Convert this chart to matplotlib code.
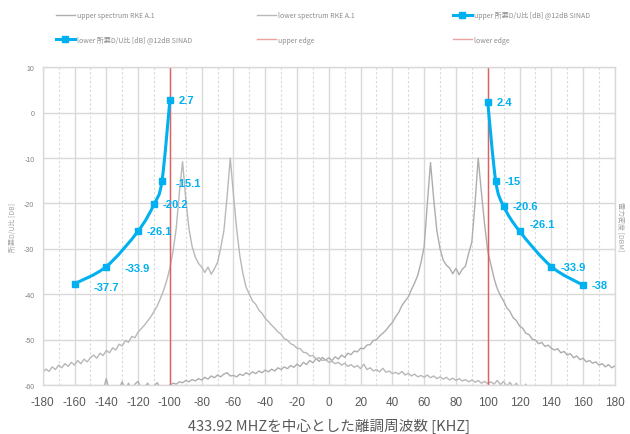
import numpy as np
import matplotlib
matplotlib.use("Agg")
import matplotlib.pyplot as plt
from matplotlib.path import Path
from matplotlib.patches import PathPatch
from matplotlib.lines import Line2D

plt.rcParams['font.family'] = ['Liberation Sans', 'Noto Sans CJK JP', 'DejaVu Sans']
plt.rcParams['axes.unicode_minus'] = False

# ---------------- data ----------------
freq = np.arange(-180, 182, 2)  # kHz sampling of the spectra

lower_spectrum = (
    [-57.2, -56.5, -57.0, -56.0, -56.6, -55.6, -56.2, -55.3, -55.9, -55.0, -55.6, -54.6, -55.3, -54.3, -54.9, -54.0]
    + [-53.4, -54.1, -53.0, -53.5, -52.4, -52.9, -51.8, -52.3, -51.0, -51.4, -50.2, -50.6, -49.3, -49.6, -48.3]
    + [-47.6, -46.8, -45.9, -45.0, -43.8, -42.6, -41.0, -39.2, -37.0, -34.3]
    + [-30.5, -25.5, -17.5, -10.8, -19.0, -25.5, -29.5]
    + [-31.8, -33.2, -34.0, -35.2, -34.0, -35.6, -34.4, -33.0]
    + [-29.8, -26.0, -18.5, -10.0, -18.0, -25.5, -31.5]
    + [-35.5, -38.5, -40.0, -41.5, -42.2, -43.5, -44.2, -45.3, -46.0, -46.8, -47.5, -48.3, -48.8]
    + [-49.8, -50.1, -50.9, -51.2, -51.9, -52.0, -52.8, -52.9, -53.6, -53.5, -54.2, -54.0, -54.6, -54.4, -55.0]
    + [-54.8, -55.3, -55.0, -55.6, -55.2, -55.9, -55.5, -56.1, -55.7, -56.4, -55.4, -56.6, -56.2, -56.9, -56.6]
    + [-57.1, -56.3, -57.2, -56.9, -57.5, -57.2, -57.6, -57.0, -57.8, -57.4, -58.0, -57.6, -58.2, -57.9, -58.3]
    + [-57.8, -58.4, -58.0, -58.6, -58.2, -58.7, -58.3, -58.9, -58.5, -59.0, -58.6, -59.1, -58.8, -59.3, -58.9]
    + [-59.4, -59.0, -59.6, -59.2, -59.7, -59.3, -59.8, -59.0, -59.9, -59.2, -60.3, -59.4, -60.5, -59.6, -60.6]
    + [-61.0, -59.8, -61.5, -60.2, -62.0, -61.0, -62.5, -61.5, -63.0, -62.0,
       -63.0, -62.4, -63.2, -62.6, -63.4, -62.8, -63.5, -62.9, -63.6, -63.0,
       -63.7, -63.1, -63.8, -63.2, -63.9, -63.3, -64.0, -63.4, -64.0, -63.5]
)

upper_spectrum = (
    [-63.0, -62.5, -63.0, -62.0, -63.0, -62.5, -63.0, -62.0, -62.8, -62.2, -63.0, -62.0, -62.6, -61.8, -62.5, -61.5, -62.2, -61.4, -62.0, -61.2]
    + [-58.6, -61.5, -61.0, -61.6, -60.8, -59.3, -61.0, -59.6, -61.2, -59.8, -59.2, -60.9, -60.5, -59.6, -60.8, -60.2, -59.5, -60.6, -60.3, -60.5]
    + [-60.0, -59.6, -59.8, -59.3, -59.5, -59.0, -59.3, -58.8, -59.1, -58.6, -58.9, -58.3, -58.7, -58.0, -58.4, -57.8, -58.2, -57.6, -57.3, -58.0, -57.9]
    + [-58.2, -57.6, -57.9, -57.3, -57.7, -57.1, -57.5, -56.9, -57.3, -56.7, -57.1, -56.5, -56.9, -56.2, -56.6]
    + [-56.0, -56.4, -55.7, -56.1, -55.4, -55.9, -55.0, -55.5, -54.6, -55.1, -54.2, -54.8, -53.9, -54.5, -54.0]
    + [-54.6, -53.8, -54.3, -53.4, -53.9, -53.0, -53.3, -52.5, -52.7, -51.9, -52.0, -51.2, -51.1, -50.2, -50.0]
    + [-49.2, -48.6, -47.9, -47.0, -46.2, -45.0, -44.0, -42.5, -41.5, -40.6, -39.0, -37.5, -35.8]
    + [-33.0, -29.5, -20.0, -11.0, -19.0, -26.0, -30.0]
    + [-32.5, -33.6, -34.2, -35.5, -34.3, -35.7, -34.5, -33.8]
    + [-31.0, -28.5, -20.0, -10.0, -17.5, -24.5, -30.5]
    + [-33.5, -36.5, -38.8, -40.3, -41.5, -43.0, -43.8, -45.2, -45.8, -47.0, -47.5, -48.6, -48.9, -49.9, -50.1]
    + [-50.9, -50.6, -51.5, -51.2, -51.9, -52.3, -52.0, -52.9, -52.6, -53.4, -53.1, -54.0, -53.6, -54.4, -54.1,
       -54.9, -54.6, -55.2, -54.9, -55.6, -55.3, -56.0, -55.5, -56.2, -55.8]
)

lower_du_x = [-160, -140, -120, -110, -105, -100]
lower_du_y = [-37.7, -33.9, -26.1, -20.2, -15.1, 2.7]
upper_du_x = [100, 105, 110, 120, 140, 160]
upper_du_y = [2.4, -15, -20.6, -26.1, -33.9, -38]

upper_edge = 100
lower_edge = -100

xticks = list(range(-180, 181, 20))
yticks = list(range(-60, 11, 10))

# ---------------- styles ----------------
BLUE = '#00b0f0'
RED = '#e06060'
GRID = '#d9d9d9'
TXT = '#595959'

fig = plt.figure(figsize=(6.3, 4.35), dpi=100)
ax = fig.add_axes([0.0678, 0.1126, 0.9082, 0.7304])

ax.set_xlim(-180, 180)
ax.set_ylim(-60, 10)
ax.set_xticks(xticks)
ax.set_xticks(list(range(-170, 180, 20)), minor=True)
ax.set_yticks(yticks)
ax.grid(True, which='major', color=GRID, lw=1.0)
ax.grid(True, which='minor', axis='x', color=GRID, lw=0.8, ls=(0, (2, 2)))
ax.set_axisbelow(True)
for s in ax.spines.values():
    s.set_color(GRID)
    s.set_linewidth(1.0)
ax.tick_params(which='both', length=0)
ax.tick_params(axis='x', labelsize=8.5, labelcolor=TXT, pad=8)
ax.tick_params(axis='y', labelsize=5, labelcolor='#7f7f7f', pad=6)

# spectra
h_up, = ax.plot(freq, upper_spectrum, color='#adadad', lw=1.0)
h_lo, = ax.plot(freq, lower_spectrum, color='#b8b8b8', lw=1.0)

# edges
ax.axvline(upper_edge, color=RED, lw=1.0)
ax.axvline(lower_edge, color=RED, lw=1.0)


def smooth_path(xs, ys):
    pts = np.column_stack([xs, ys]).astype(float)
    n = len(pts)
    verts = [pts[0]]
    codes = [Path.MOVETO]
    for i in range(n - 1):
        p0 = pts[i - 1] if i > 0 else pts[i]
        p1 = pts[i]
        p2 = pts[i + 1]
        p3 = pts[i + 2] if i + 2 < n else pts[i + 1]
        c1 = p1 + (p2 - p0) / 6.0
        c2 = p2 - (p3 - p1) / 6.0
        verts += [c1, c2, p2]
        codes += [Path.CURVE4] * 3
    return Path(verts, codes)


for xs, ys in [(lower_du_x, lower_du_y), (upper_du_x, upper_du_y)]:
    ax.add_patch(PathPatch(smooth_path(xs, ys), facecolor='none', edgecolor=BLUE, lw=2.2,
                           capstyle='round', joinstyle='round', zorder=4))
    ax.plot(xs, ys, 's', color=BLUE, ms=5, zorder=5)

lab_kw = dict(textcoords='offset points', color=BLUE, fontsize=8, fontweight='bold',
              ha='left', va='center', zorder=6)
lower_offsets = [(14, -2), (13, -1), (6.5, 0), (6.5, 0), (10, -1), (6.5, 0)]
upper_offsets = [(6.5, 0), (6.5, 0), (6.5, 0), (7, 5.5), (6.5, 0), (6.5, 0)]
for xs, ys, offs in [(lower_du_x, lower_du_y, lower_offsets), (upper_du_x, upper_du_y, upper_offsets)]:
    for x, y, o in zip(xs, ys, offs):
        ax.annotate(f"{y:g}", (x, y), xytext=o, **lab_kw)

ax.set_xlabel('433.92 MHZを中心とした離調周波数 [KHZ]', fontsize=10.5, color=TXT, labelpad=7,
              family=['Noto Sans CJK JP', 'DejaVu Sans'])
ax.set_ylabel('所要D/U比 [DB]', fontsize=5, color='#a6a6a6',
              family=['Noto Sans CJK JP', 'DejaVu Sans'])
ax.yaxis.set_label_coords(-0.045, 0.5)

ax2 = ax.twinx()
ax2.set_ylim(-60, 10)
ax2.set_yticks([])
for s in ax2.spines.values():
    s.set_visible(False)
ax2.set_ylabel('電力密度 [DBM]', fontsize=5, color='#a6a6a6', rotation=270,
               family=['Noto Sans CJK JP', 'DejaVu Sans'])
ax2.yaxis.set_label_coords(1.016, 0.5)

# legend (3 columns, 2 rows)
h_udu = Line2D([], [], color=BLUE, lw=2.2, marker='s', ms=4)
h_ldu = Line2D([], [], color=BLUE, lw=2.2, marker='s', ms=4)
h_ue = Line2D([], [], color='#eea0a0', lw=1.0)
h_le = Line2D([], [], color='#eea0a0', lw=1.0)
cols = [
    ([h_up, h_ldu], ['upper spectrum RKE A.1', 'lower 所要D/U比 [dB] @12dB SINAD'], 56),
    ([h_lo, h_ue], ['lower spectrum RKE A.1', 'upper edge'], 257),
    ([h_udu, h_le], ['upper 所要D/U比 [dB] @12dB SINAD', 'lower edge'], 453),
]
for hs, ls, xpx in cols:
    lg = fig.legend(hs, ls, loc='upper left', bbox_to_anchor=(xpx / 630, 1 - 12 / 435),
                    frameon=False, handlelength=2.7, handletextpad=0.3,
                    labelspacing=2.4, borderpad=0, borderaxespad=0,
                    prop={'family': ['Noto Sans CJK JP', 'DejaVu Sans'], 'size': 5})
    for t in lg.get_texts():
        t.set_color('#8c8c8c')

fig.savefig('out.png', dpi=100)
